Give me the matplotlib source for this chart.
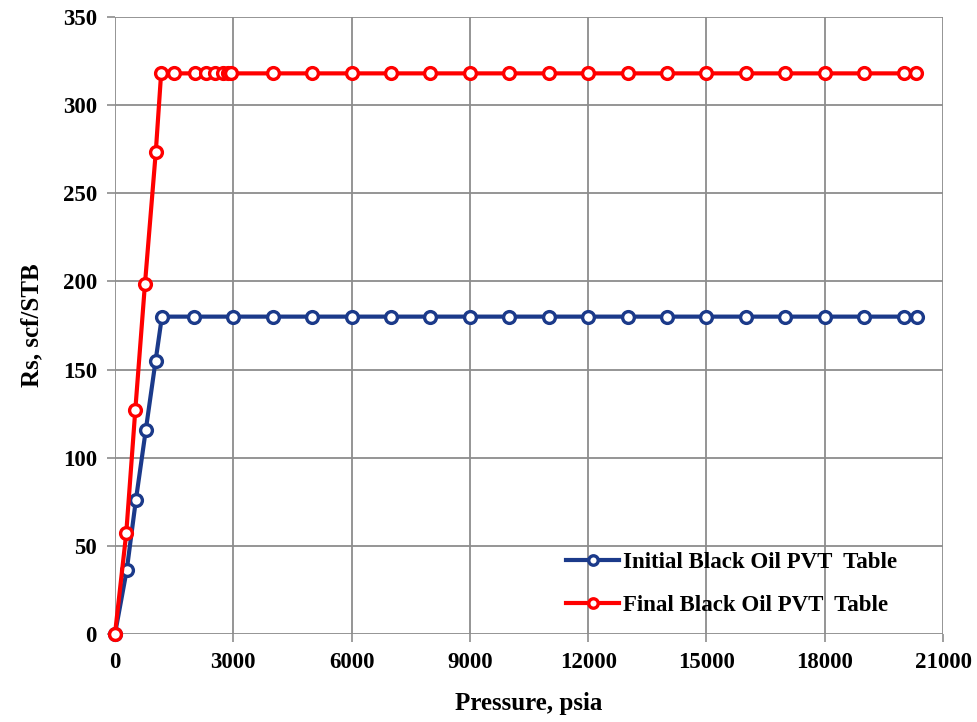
import numpy as np
import matplotlib.pyplot as plt

# Rs vs pressure, initial and final black oil PVT tables
p_initial = [0, 300, 530, 780, 1030, 1190, 2000, 3000, 4000, 5000, 6000, 7000,
             8000, 9000, 10000, 11000, 12000, 13000, 14000, 15000, 16000,
             17000, 18000, 19000, 20000, 20340]
rs_initial = [0, 36.5, 76, 115.5, 155, 180, 180, 180, 180, 180, 180, 180,
              180, 180, 180, 180, 180, 180, 180, 180, 180,
              180, 180, 180, 180, 180]

p_final = [0, 285, 515, 760, 1035, 1170, 1500, 2030, 2300, 2540, 2750, 2870,
           2950, 4000, 5000, 6000, 7000, 8000, 9000, 10000, 11000, 12000,
           13000, 14000, 15000, 16000, 17000, 18000, 19000, 20000, 20320]
rs_final = [0, 57, 127, 198.5, 273.5, 318, 318, 318, 318, 318, 318, 318,
            318, 318, 318, 318, 318, 318, 318, 318, 318, 318,
            318, 318, 318, 318, 318, 318, 318, 318, 318]

plt.rcParams['font.family'] = ['Liberation Serif', 'DejaVu Serif']
plt.rcParams['font.weight'] = 'bold'

fig = plt.figure(figsize=(9.77, 7.22), dpi=100)
ax = fig.add_axes([0.1177, 0.122, 0.8475, 0.8545])

ax.plot(p_initial, rs_initial, color='#1b3a8a', lw=3, marker='o', ms=8.5,
        mfc='white', mec='#1b3a8a', mew=2.4, label='Initial Black Oil PVT  Table',
        zorder=3, clip_on=False)
ax.plot(p_final, rs_final, color='#ff0000', lw=3, marker='o', ms=8.5,
        mfc='white', mec='#ff0000', mew=2.4, label='Final Black Oil PVT  Table',
        zorder=4, clip_on=False)

ax.set_xlim(0, 21000)
ax.set_ylim(0, 350)
ax.set_xticks(np.arange(0, 21001, 3000))
ax.set_yticks(np.arange(0, 351, 50))
ax.grid(True, color='#8c8c8c', lw=1.3)
ax.set_axisbelow(True)
for s in ax.spines.values():
    s.set_visible(False)
ax.tick_params(axis='both', direction='out', length=6, width=1.2, color='#8c8c8c',
               labelsize=16.5, pad=7)
for lab in ax.get_xticklabels() + ax.get_yticklabels():
    lab.set_fontweight('bold')

ax.set_xlabel('Pressure, psia', fontsize=18, fontweight='bold', labelpad=14)
ax.set_ylabel('Rs, scf/STB', fontsize=18, fontweight='bold', labelpad=14)

leg = ax.legend(loc='upper left', bbox_to_anchor=(0.568, 0.251),
                bbox_transform=fig.transFigure, frameon=False, borderpad=0,
                prop={'size': 16.5, 'weight': 'bold'}, handlelength=2.3,
                handletextpad=0.15, labelspacing=0.95, markerscale=0.8)

fig.savefig('out.png', dpi=100)
